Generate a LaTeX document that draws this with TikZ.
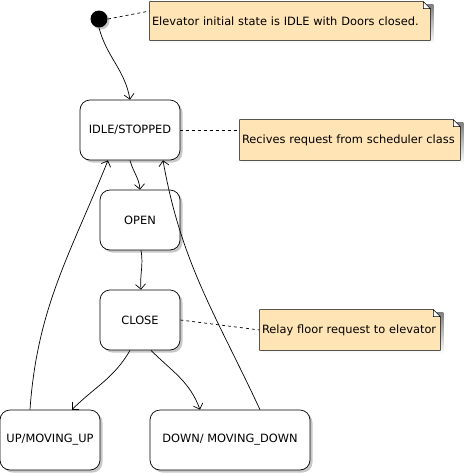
\documentclass[tikz,border=0pt]{standalone}
\usepackage{fontspec}
\setmainfont{DejaVu Sans}
\usetikzlibrary{arrows.meta,shadows,backgrounds}
\definecolor{notefill}{RGB}{255,228,181}
\definecolor{shade}{RGB}{200,200,200}

\begin{document}
\begin{tikzpicture}[x=1pt,y=1pt,line width=0.7pt,font=\fontsize{11.4}{13}\selectfont,>={Straight Barb[length=5pt,width=10pt]}]
\tikzstyle{every node}+=[inner sep=0pt]
\tikzstyle{state}=[draw,fill=white,rounded corners=10pt,minimum height=60pt,
  drop shadow={shadow xshift=2.5pt,shadow yshift=-2.5pt,fill=shade,opacity=1}]
\tikzstyle{note}=[minimum height=40pt,inner xsep=2pt,align=left]
\tikzstyle{trans}=[->,black]
\tikzstyle{link}=[dashed,black]
\useasboundingbox (0,0) rectangle (465,-475);
\node [circle,fill=black,minimum size=17pt,
  drop shadow={shadow xshift=2pt,shadow yshift=-2pt,fill=shade,opacity=1}] (init) at (99,-19) {};
\node [state,minimum width=100pt] (idle) at (130,-130) {IDLE/STOPPED};
\node [state,minimum width=80pt] (open) at (140,-220) {OPEN};
\node [state,minimum width=80pt] (close) at (140,-320) {CLOSE};
\node [state,minimum width=100pt] (up) at (50,-440) {UP/MOVING\_UP};
\node [state,minimum width=160pt] (down) at (230,-440) {DOWN/ MOVING\_DOWN};
\node [note,text width=276pt,minimum height=38pt] (note1) at (290,-21) {Elevator initial state is IDLE with Doors closed.};
\node [note,text width=216pt] (note2) at (350,-140) {Recives request from scheduler class};
\node [note,text width=176pt] (note3) at (350,-330) {Relay floor request to elevator};
\begin{scope}[on background layer]
\fill[white] (0,0) rectangle (465,-475);
\foreach \n in {note1,note2,note3} {
  \fill [shade] ([shift={(3pt,-3pt)}]\n.south west) rectangle ([shift={(3pt,-3pt)}]\n.north east);
  \filldraw [fill=notefill] (\n.south west) -- (\n.north west) -- ([xshift=-7pt]\n.north east)
    -- ([yshift=-7pt]\n.north east) -- (\n.south east) -- cycle;
  \filldraw [fill=white] ([xshift=-7pt]\n.north east) -- ([xshift=-7pt,yshift=-7pt]\n.north east)
    -- ([yshift=-7pt]\n.north east) -- cycle;
}
\end{scope}
\draw [trans] (init.south) to[out=-75,in=100] (idle.north);
\draw [trans] (idle.south) to[out=-75,in=95] (open.north);
\draw [trans] ([xshift=1pt]open.south) to[out=-80,in=95] ([xshift=1pt]close.north);
\draw [trans] ([xshift=-10pt]close.south) to[out=-120,in=45] ([xshift=22pt]up.north);
\draw [trans] ([xshift=11pt]close.south) to[out=-45,in=110] ([xshift=-30pt]down.north);
\draw [trans] ([xshift=-20pt]up.north) to[out=86,in=-112] ([xshift=-22pt]idle.south);
\draw [trans] ([xshift=30pt]down.north) to[out=115,in=-80] ([xshift=33pt]idle.south);
\draw [link] (init.east) -- ([yshift=10pt]note1.west);
\draw [link] (idle.east) -- ([yshift=10pt]note2.west);
\draw [link] (close.east) -- (note3.west);
\end{tikzpicture}
\end{document}
